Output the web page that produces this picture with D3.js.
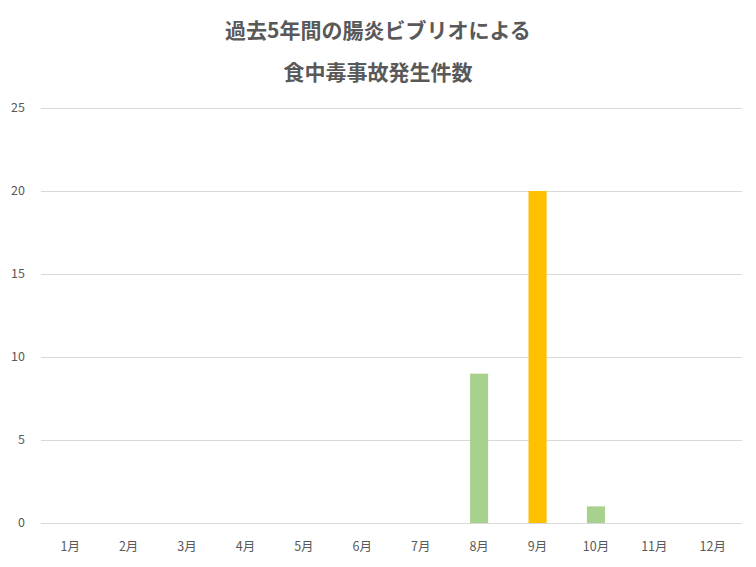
<!DOCTYPE html>
<html>
<head>
<meta charset="utf-8">
<script src="https://cdn.jsdelivr.net/npm/d3@7"></script>
<style>
  body { margin: 0; background: #fff; }
  text { font-family: "Noto Sans CJK JP", "Noto Sans", sans-serif; }
</style>
</head>
<body>
<div id="chartArea"></div>
<script>
const months = ["1月", "2月", "3月", "4月", "5月", "6月", "7月", "8月", "9月", "10月", "11月", "12月"];
const cases = [0, 0, 0, 0, 0, 0, 0, 9, 20, 1, 0, 0];
const yTicks = [0, 5, 10, 15, 20, 25];
const titleLines = ["過去5年間の腸炎ビブリオによる", "食中毒事故発生件数"];
const peakMonth = "9月";

const width = 756;
const height = 567;
const margin = { top: 108, left: 41, bottom: 44, right: 14 };
const iwidth = width - margin.left - margin.right;
const iheight = height - margin.top - margin.bottom;

const svg = d3.select("#chartArea").append("svg")
  .attr("width", width)
  .attr("height", height);

// title
svg.selectAll("text.title")
  .data(titleLines)
  .enter()
  .append("text")
  .attr("class", "title")
  .attr("x", width / 2)
  .attr("y", (d, i) => 38 + i * 42)
  .attr("text-anchor", "middle")
  .style("font-size", "21px")
  .style("font-weight", "bold")
  .style("fill", "#595959")
  .text(d => d);

const g = svg.append("g")
  .attr("transform", `translate(${margin.left},${margin.top})`);

const y = d3.scaleLinear().domain([0, 25]).range([iheight, 0]);
const x = d3.scaleBand().domain(months).range([0, iwidth]).padding(0);
const barW = x.bandwidth() * 0.31;

//gridlines
g.append("g")
  .selectAll("line")
  .data(yTicks)
  .enter()
  .append("line")
  .attr("x1", 0)
  .attr("x2", iwidth)
  .attr("y1", d => Math.round(y(d)) + 0.5)
  .attr("y2", d => Math.round(y(d)) + 0.5)
  .style("stroke", "#d9d9d9")
  .style("stroke-width", 1);

//Y-Axis labels
g.append("g")
  .selectAll("text")
  .data(yTicks)
  .enter()
  .append("text")
  .attr("x", -16)
  .attr("y", d => y(d))
  .attr("dy", "0.35em")
  .attr("text-anchor", "end")
  .style("font-size", "12.5px")
  .style("fill", "#595959")
  .text(d => d);

//bars
g.selectAll("rect")
  .data(months.map((m, i) => ({ name: m, value: cases[i] })).filter(d => d.value > 0))
  .enter()
  .append("rect")
  .attr("x", d => x(d.name) + (x.bandwidth() - barW) / 2)
  .attr("y", d => y(d.value))
  .attr("width", barW)
  .attr("height", d => iheight - y(d.value))
  .style("fill", d => d.name === peakMonth ? "#ffc000" : "#a9d18e");

//X-Axis labels
g.append("g")
  .selectAll("text")
  .data(months)
  .enter()
  .append("text")
  .attr("x", d => x(d) + x.bandwidth() / 2)
  .attr("y", iheight + 24)
  .attr("dy", "0.35em")
  .attr("text-anchor", "middle")
  .style("font-size", "12.5px")
  .style("fill", "#595959")
  .text(d => d);
</script>
</body>
</html>
